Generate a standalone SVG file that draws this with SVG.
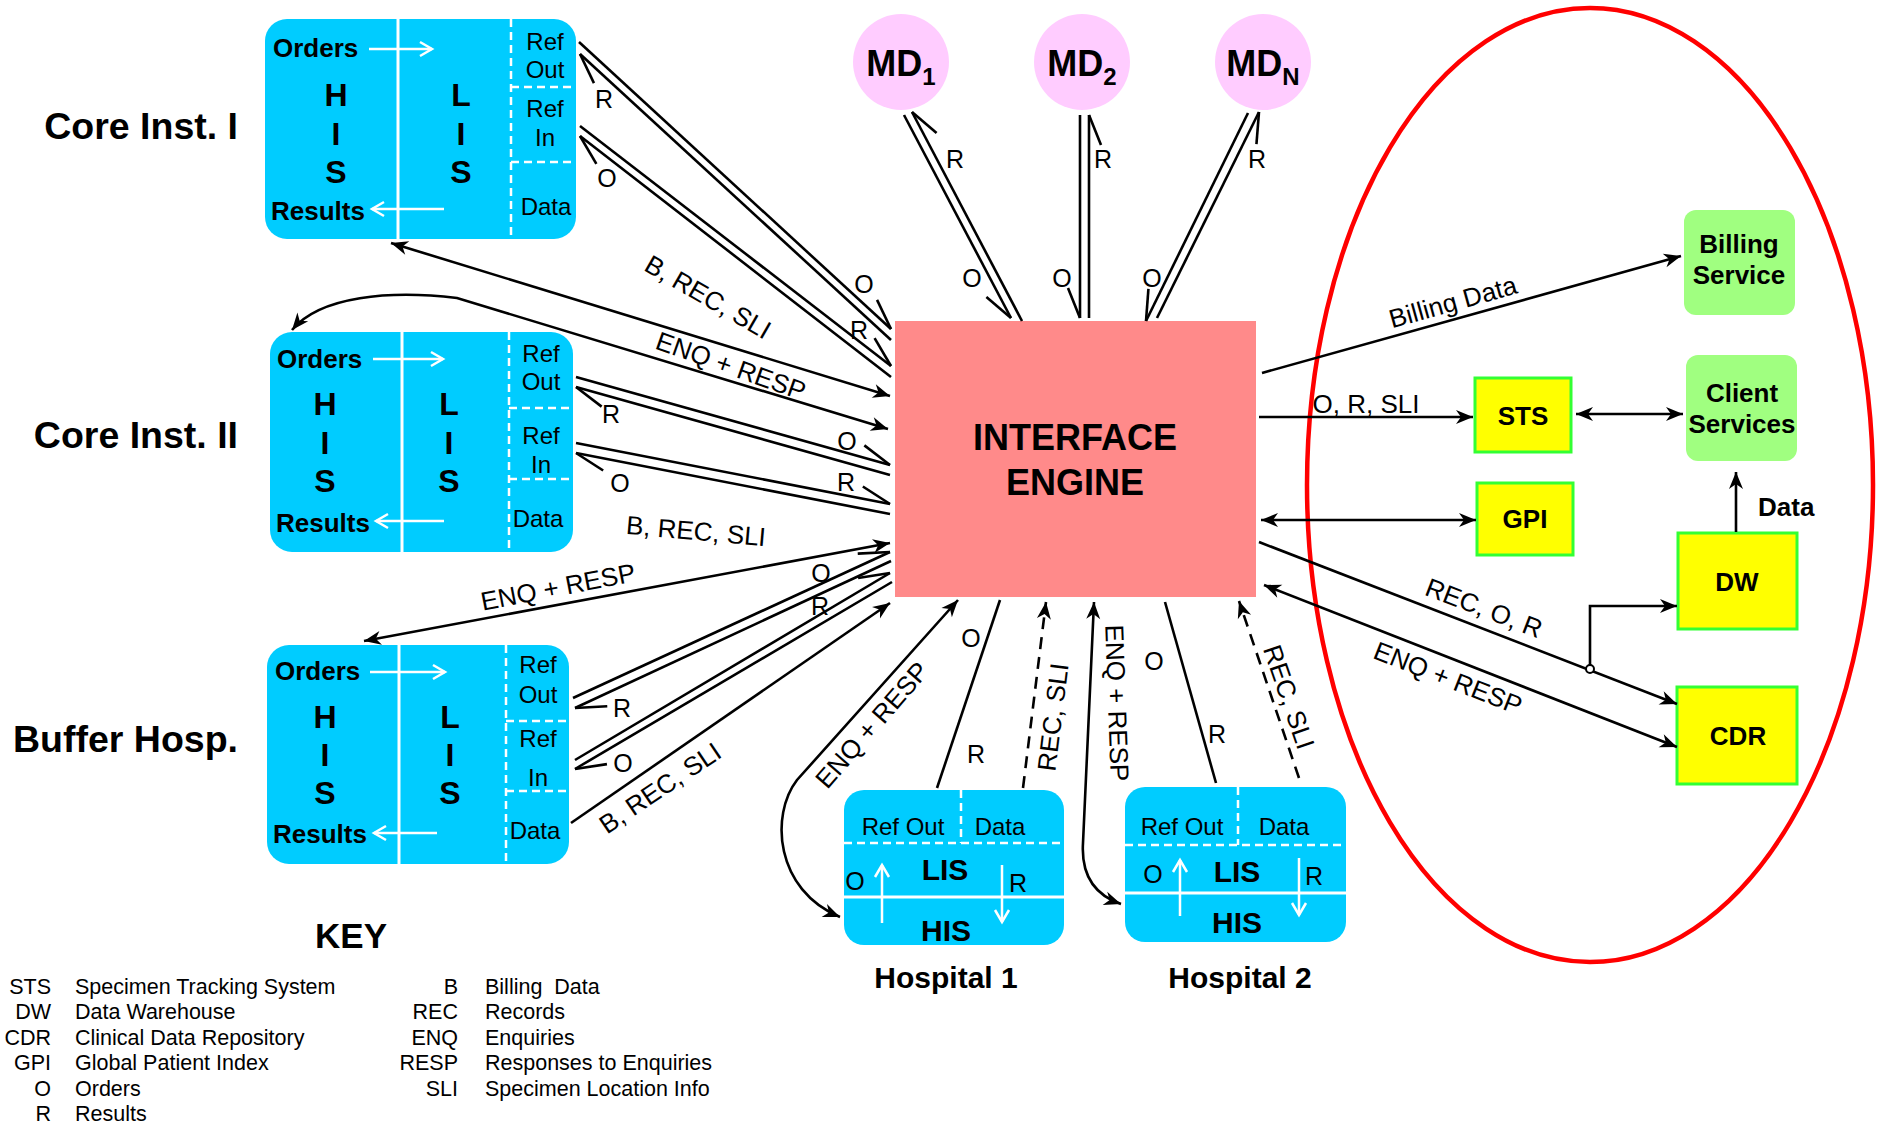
<svg xmlns="http://www.w3.org/2000/svg" width="1883" height="1126" viewBox="0 0 1883 1126">
  <style>
    text { font-family: "Liberation Sans", Arial, sans-serif; fill: #000; }
    .bold { font-weight: bold; }
    .t37 { font-size: 37.5px; font-weight: bold; }
    .t36 { font-size: 36px; font-weight: bold; }
    .t32 { font-size: 32px; font-weight: bold; }
    .t30 { font-size: 30px; font-weight: bold; }
    .t26b { font-size: 26px; font-weight: bold; }
    .t26 { font-size: 26px; }
    .t25 { font-size: 25px; }
    .t24 { font-size: 24px; }
    .t21 { font-size: 21.5px; }
    .mid { text-anchor: middle; }
    .end { text-anchor: end; }
    .sys { fill: #00CCFF; }
    .wl { stroke: #fff; stroke-width: 3; fill: none; }
    .wd { stroke: #fff; stroke-width: 2.5; stroke-dasharray: 8 5; fill: none; }
    .wa { stroke: #fff; stroke-width: 2.5; fill: none; marker-end: url(#wa); }
    .c { stroke: #000; stroke-width: 2.6; fill: none; }
    .dash { stroke-dasharray: 12 8; }
    .svc { fill: #A0FF80; }
    .ylw { fill: #FFFF00; stroke: #33FF33; stroke-width: 3; }
    .md { fill: #FFCCFF; }
  </style>
  <defs>
    <marker id="arr" markerUnits="userSpaceOnUse" orient="auto-start-reverse" overflow="visible" markerWidth="20" markerHeight="20" refX="0" refY="0">
      <path d="M0,0 L-17,-7 L-12,0 L-17,7 Z" fill="#000"/>
    </marker>
    <marker id="hL" markerUnits="userSpaceOnUse" orient="auto-start-reverse" overflow="visible" markerWidth="40" markerHeight="40" refX="0" refY="0">
      <path d="M0,0 L-30,-12" stroke="#000" stroke-width="2.6" fill="none"/>
    </marker>
    <marker id="hR" markerUnits="userSpaceOnUse" orient="auto-start-reverse" overflow="visible" markerWidth="40" markerHeight="40" refX="0" refY="0">
      <path d="M0,0 L-30,12" stroke="#000" stroke-width="2.6" fill="none"/>
    </marker>
    <marker id="wa" markerUnits="userSpaceOnUse" orient="auto" overflow="visible" markerWidth="20" markerHeight="20" refX="0" refY="0">
      <path d="M-12,-7 L0,0 L-12,7" stroke="#fff" stroke-width="2.5" fill="none"/>
    </marker>
  </defs>

  <rect width="1883" height="1126" fill="#fff"/>

  <!-- boundary around the central services -->
  <ellipse id="services-boundary" cx="1590" cy="485" rx="283" ry="477" fill="none" stroke="#FF0000" stroke-width="4.5"/>

  <!-- side labels -->
  <text class="t37 end" x="238" y="139">Core Inst. I</text>
  <text class="t37 end" x="238" y="448">Core Inst. II</text>
  <text class="t37 end" x="238" y="752">Buffer Hosp.</text>

  <!-- Core Inst. I -->
  <g id="core1">
    <rect class="sys" x="265" y="19" width="311" height="220" rx="22"/>
    <line class="wl" x1="398" y1="19" x2="398" y2="239"/>
    <line class="wd" x1="511" y1="19" x2="511" y2="239"/>
    <line class="wd" x1="511" y1="87" x2="576" y2="87"/>
    <line class="wd" x1="511" y1="162" x2="576" y2="162"/>
    <text class="t26b" x="273" y="57">Orders</text>
    <text class="t26b" x="271" y="220">Results</text>
    <line class="wa" x1="369" y1="49" x2="432" y2="49"/>
    <line class="wa" x1="444" y1="209" x2="372" y2="209"/>
    <text class="t32 mid" x="336" y="106">H</text>
    <text class="t32 mid" x="336" y="145">I</text>
    <text class="t32 mid" x="336" y="183">S</text>
    <text class="t32 mid" x="461" y="106">L</text>
    <text class="t32 mid" x="461" y="145">I</text>
    <text class="t32 mid" x="461" y="183">S</text>
    <text class="t24 mid" x="545" y="50">Ref</text>
    <text class="t24 mid" x="545" y="78">Out</text>
    <text class="t24 mid" x="545" y="117">Ref</text>
    <text class="t24 mid" x="545" y="146">In</text>
    <text class="t24 mid" x="546" y="215">Data</text>
  </g>

  <!-- Core Inst. II -->
  <g id="core2">
    <rect class="sys" x="270" y="332" width="303" height="220" rx="22"/>
    <line class="wl" x1="402" y1="332" x2="402" y2="552"/>
    <line class="wd" x1="509" y1="332" x2="509" y2="552"/>
    <line class="wd" x1="509" y1="408" x2="573" y2="408"/>
    <line class="wd" x1="509" y1="479" x2="573" y2="479"/>
    <text class="t26b" x="277" y="368">Orders</text>
    <text class="t26b" x="276" y="532">Results</text>
    <line class="wa" x1="373" y1="359" x2="443" y2="359"/>
    <line class="wa" x1="444" y1="521" x2="376" y2="521"/>
    <text class="t32 mid" x="325" y="415">H</text>
    <text class="t32 mid" x="325" y="454">I</text>
    <text class="t32 mid" x="325" y="492">S</text>
    <text class="t32 mid" x="449" y="415">L</text>
    <text class="t32 mid" x="449" y="454">I</text>
    <text class="t32 mid" x="449" y="492">S</text>
    <text class="t24 mid" x="541" y="362">Ref</text>
    <text class="t24 mid" x="541" y="390">Out</text>
    <text class="t24 mid" x="541" y="444">Ref</text>
    <text class="t24 mid" x="541" y="473">In</text>
    <text class="t24 mid" x="538" y="527">Data</text>
  </g>

  <!-- Buffer Hosp. -->
  <g id="buffer">
    <rect class="sys" x="267" y="645" width="302" height="219" rx="22"/>
    <line class="wl" x1="399" y1="645" x2="399" y2="864"/>
    <line class="wd" x1="506" y1="645" x2="506" y2="864"/>
    <line class="wd" x1="506" y1="721" x2="569" y2="721"/>
    <line class="wd" x1="506" y1="791" x2="569" y2="791"/>
    <text class="t26b" x="275" y="680">Orders</text>
    <text class="t26b" x="273" y="843">Results</text>
    <line class="wa" x1="370" y1="672" x2="445" y2="672"/>
    <line class="wa" x1="437" y1="833" x2="374" y2="833"/>
    <text class="t32 mid" x="325" y="728">H</text>
    <text class="t32 mid" x="325" y="766">I</text>
    <text class="t32 mid" x="325" y="804">S</text>
    <text class="t32 mid" x="450" y="728">L</text>
    <text class="t32 mid" x="450" y="766">I</text>
    <text class="t32 mid" x="450" y="804">S</text>
    <text class="t24 mid" x="538" y="673">Ref</text>
    <text class="t24 mid" x="538" y="703">Out</text>
    <text class="t24 mid" x="538" y="747">Ref</text>
    <text class="t24 mid" x="538" y="786">In</text>
    <text class="t24 mid" x="535" y="839">Data</text>
  </g>

  <!-- medical devices -->
  <g id="md1">
    <circle class="md" cx="901" cy="62" r="48"/>
    <text class="t36 mid" x="901" y="76">MD<tspan font-size="24" dy="9">1</tspan></text>
  </g>
  <g id="md2">
    <circle class="md" cx="1082" cy="62" r="48"/>
    <text class="t36 mid" x="1082" y="76">MD<tspan font-size="24" dy="9">2</tspan></text>
  </g>
  <g id="mdn">
    <circle class="md" cx="1263" cy="62" r="48"/>
    <text class="t36 mid" x="1263" y="76">MD<tspan font-size="24" dy="9">N</tspan></text>
  </g>

  <!-- interface engine -->
  <g id="engine">
    <rect x="895" y="321" width="361" height="276" fill="#FF8A8A"/>
    <text class="t36 mid" x="1075" y="450">INTERFACE</text>
    <text class="t36 mid" x="1075" y="495">ENGINE</text>
  </g>

  <!-- Hospital 1 -->
  <g id="hosp1">
    <rect class="sys" x="844" y="790" width="220" height="155" rx="20"/>
    <line class="wd" x1="961" y1="790" x2="961" y2="843"/>
    <line class="wd" x1="844" y1="843" x2="1064" y2="843"/>
    <line class="wl" x1="844" y1="897" x2="1064" y2="897"/>
    <text class="t24 mid" x="903" y="835">Ref Out</text>
    <text class="t24 mid" x="1000" y="835">Data</text>
    <text class="t30 mid" x="945" y="880">LIS</text>
    <text class="t30 mid" x="946" y="941">HIS</text>
    <text class="t25 mid" x="855" y="890">O</text>
    <text class="t25 mid" x="1018" y="892">R</text>
    <line class="wa" x1="882" y1="923" x2="882" y2="865"/>
    <line class="wa" x1="1002" y1="865" x2="1002" y2="922"/>
    <text class="t30 mid" x="946" y="988">Hospital 1</text>
  </g>

  <!-- Hospital 2 -->
  <g id="hosp2">
    <rect class="sys" x="1125" y="787" width="221" height="155" rx="20"/>
    <line class="wd" x1="1238" y1="787" x2="1238" y2="845"/>
    <line class="wd" x1="1125" y1="845" x2="1346" y2="845"/>
    <line class="wl" x1="1125" y1="893" x2="1346" y2="893"/>
    <text class="t24 mid" x="1182" y="835">Ref Out</text>
    <text class="t24 mid" x="1284" y="835">Data</text>
    <text class="t30 mid" x="1237" y="882">LIS</text>
    <text class="t30 mid" x="1237" y="933">HIS</text>
    <text class="t25 mid" x="1153" y="883">O</text>
    <text class="t25 mid" x="1314" y="885">R</text>
    <line class="wa" x1="1180" y1="916" x2="1180" y2="860"/>
    <line class="wa" x1="1299" y1="858" x2="1299" y2="915"/>
    <text class="t30 mid" x="1240" y="988">Hospital 2</text>
  </g>

  <!-- central services -->
  <g id="billing">
    <rect class="svc" x="1684" y="210" width="111" height="105" rx="12"/>
    <text class="t26b mid" x="1739" y="253">Billing</text>
    <text class="t26b mid" x="1739" y="284">Service</text>
  </g>
  <g id="client">
    <rect class="svc" x="1686" y="355" width="111" height="106" rx="12"/>
    <text class="t26b mid" x="1742" y="402">Client</text>
    <text class="t26b mid" x="1742" y="433">Services</text>
  </g>
  <g id="sts">
    <rect class="ylw" x="1475" y="378" width="96" height="74"/>
    <text class="t26b mid" x="1523" y="425">STS</text>
  </g>
  <g id="gpi">
    <rect class="ylw" x="1477" y="483" width="96" height="72"/>
    <text class="t26b mid" x="1525" y="528">GPI</text>
  </g>
  <g id="dw">
    <rect class="ylw" x="1678" y="533" width="119" height="96"/>
    <text class="t26b mid" x="1737" y="591">DW</text>
  </g>
  <g id="cdr">
    <rect class="ylw" x="1677" y="687" width="120" height="97"/>
    <text class="t26b mid" x="1738" y="745">CDR</text>
  </g>

  <!-- connectors -->
  <g id="connectors">
    <!-- Core Inst. I referral pairs -->
    <path class="c" d="M579,42 L891,329" marker-end="url(#hL)"/>
    <path class="c" d="M580,54 L891,340" marker-start="url(#hL)"/>
    <path class="c" d="M580,126 L891,366" marker-end="url(#hL)"/>
    <path class="c" d="M580,136 L891,377" marker-start="url(#hL)"/>
    <path class="c" d="M391,243 L890,396" marker-start="url(#arr)" marker-end="url(#arr)"/>
    <!-- Core Inst. II -->
    <path class="c" d="M292,330 C320,296 390,290 457,298 L888,429" marker-start="url(#arr)" marker-end="url(#arr)"/>
    <path class="c" d="M576,377 L890,465" marker-end="url(#hL)"/>
    <path class="c" d="M576,387 L890,475" marker-start="url(#hL)"/>
    <path class="c" d="M576,443 L890,504" marker-end="url(#hL)"/>
    <path class="c" d="M576,453 L890,514" marker-start="url(#hL)"/>
    <!-- Buffer Hosp. -->
    <path class="c" d="M364,641 L890,543" marker-start="url(#arr)" marker-end="url(#arr)"/>
    <path class="c" d="M573,698 L890,552" marker-end="url(#hL)"/>
    <path class="c" d="M575,708 L891,561" marker-start="url(#hL)"/>
    <path class="c" d="M575,760 L890,573" marker-end="url(#hL)"/>
    <path class="c" d="M575,769 L892,582" marker-start="url(#hL)"/>
    <path class="c" d="M571,823 L890,603" marker-end="url(#arr)"/>
    <!-- medical devices -->
    <path class="c" d="M904,115 L1011,318" marker-end="url(#hR)"/>
    <path class="c" d="M912,112 L1022,321" marker-start="url(#hR)"/>
    <path class="c" d="M1080,115 L1080,318" marker-end="url(#hR)"/>
    <path class="c" d="M1089,115 L1089,318" marker-start="url(#hR)"/>
    <path class="c" d="M1248,113 L1146,321" marker-end="url(#hR)"/>
    <path class="c" d="M1259,112 L1157,318" marker-start="url(#hR)"/>
    <!-- Hospital 1 -->
    <path class="c" d="M840,917 C775,890 770,815 797,780 L958,600" marker-start="url(#arr)" marker-end="url(#arr)"/>
    <path class="c" d="M937,788 L1000,600"/>
    <path class="c dash" d="M1023,788 L1046,602" marker-end="url(#arr)"/>
    <!-- Hospital 2 -->
    <path class="c" d="M1121,904 C1095,895 1081,875 1083,843 L1094,602" marker-start="url(#arr)" marker-end="url(#arr)"/>
    <path class="c" d="M1216,783 L1165,602"/>
    <path class="c dash" d="M1299,778 L1239,601" marker-end="url(#arr)"/>
    <!-- central services -->
    <path class="c" d="M1262,373 L1681,256" marker-end="url(#arr)"/>
    <path class="c" d="M1259,417 L1473,417" marker-end="url(#arr)"/>
    <path class="c" d="M1261,520 L1476,520" marker-start="url(#arr)" marker-end="url(#arr)"/>
    <path class="c" d="M1576,414 L1683,414" marker-start="url(#arr)" marker-end="url(#arr)"/>
    <path class="c" d="M1259,542 L1677,704" marker-end="url(#arr)"/>
    <path class="c" d="M1590,669 L1590,606 L1677,606" marker-end="url(#arr)"/>
    <circle cx="1590" cy="669" r="4" fill="#fff" stroke="#000" stroke-width="2"/>
    <path class="c" d="M1264,585 L1677,747" marker-start="url(#arr)" marker-end="url(#arr)"/>
    <path class="c" d="M1736,532 L1736,472" marker-end="url(#arr)"/>
  </g>

  <!-- connector labels -->
  <g id="labels">
    <text class="t25 mid" x="604" y="108">R</text>
    <text class="t25 mid" x="607" y="187">O</text>
    <text class="t25 mid" x="864" y="293">O</text>
    <text class="t25 mid" x="859" y="339">R</text>
    <text class="t26 mid" transform="translate(708,297) rotate(30)" y="9">B, REC, SLI</text>
    <text class="t26 mid" transform="translate(731,366) rotate(19.5)" y="9">ENQ + RESP</text>

    <text class="t25 mid" x="611" y="423">R</text>
    <text class="t25 mid" x="620" y="492">O</text>
    <text class="t25 mid" x="847" y="450">O</text>
    <text class="t25 mid" x="846" y="491">R</text>
    <text class="t26 mid" transform="translate(696,531) rotate(5)" y="9">B, REC, SLI</text>

    <text class="t26 mid" transform="translate(558,587) rotate(-11)" y="9">ENQ + RESP</text>
    <text class="t25 mid" x="622" y="717">R</text>
    <text class="t25 mid" x="623" y="772">O</text>
    <text class="t25 mid" x="821" y="582">O</text>
    <text class="t25 mid" x="820" y="615">R</text>
    <text class="t26 mid" transform="translate(660,788) rotate(-34)" y="9">B, REC, SLI</text>

    <text class="t25 mid" x="955" y="168">R</text>
    <text class="t25 mid" x="972" y="287">O</text>
    <text class="t25 mid" x="1103" y="168">R</text>
    <text class="t25 mid" x="1062" y="287">O</text>
    <text class="t25 mid" x="1257" y="168">R</text>
    <text class="t25 mid" x="1152" y="287">O</text>

    <text class="t26 mid" transform="translate(872,725) rotate(-49)" y="9">ENQ + RESP</text>
    <text class="t25 mid" x="971" y="647">O</text>
    <text class="t25 mid" x="976" y="763">R</text>
    <text class="t26 mid" transform="translate(1053,717) rotate(-83)" y="9">REC, SLI</text>

    <text class="t26 mid" transform="translate(1117,703) rotate(88)" y="9">ENQ + RESP</text>
    <text class="t25 mid" x="1154" y="670">O</text>
    <text class="t25 mid" x="1217" y="743">R</text>
    <text class="t26 mid" transform="translate(1289,697) rotate(71)" y="9">REC, SLI</text>

    <text class="t26 mid" transform="translate(1453,302) rotate(-15.6)" y="9">Billing Data</text>
    <text class="t26 mid" x="1366" y="413">O, R, SLI</text>
    <text class="t26 mid" transform="translate(1484,608) rotate(21)" y="9">REC, O, R</text>
    <text class="t26 mid" transform="translate(1448,678) rotate(21.4)" y="9">ENQ + RESP</text>
    <text class="t26b" x="1758" y="516">Data</text>
  </g>

  <!-- key -->
  <g id="key">
    <text class="bold mid" font-size="35" x="351" y="948">KEY</text>
    <text class="t21 end" x="51" y="994">STS</text>
    <text class="t21" x="75" y="994">Specimen Tracking System</text>
    <text class="t21 end" x="51" y="1019">DW</text>
    <text class="t21" x="75" y="1019">Data Warehouse</text>
    <text class="t21 end" x="51" y="1045">CDR</text>
    <text class="t21" x="75" y="1045">Clinical Data Repository</text>
    <text class="t21 end" x="51" y="1070">GPI</text>
    <text class="t21" x="75" y="1070">Global Patient Index</text>
    <text class="t21 end" x="51" y="1096">O</text>
    <text class="t21" x="75" y="1096">Orders</text>
    <text class="t21 end" x="51" y="1121">R</text>
    <text class="t21" x="75" y="1121">Results</text>
    <text class="t21 end" x="458" y="994">B</text>
    <text class="t21" x="485" y="994" xml:space="preserve">Billing  Data</text>
    <text class="t21 end" x="458" y="1019">REC</text>
    <text class="t21" x="485" y="1019">Records</text>
    <text class="t21 end" x="458" y="1045">ENQ</text>
    <text class="t21" x="485" y="1045">Enquiries</text>
    <text class="t21 end" x="458" y="1070">RESP</text>
    <text class="t21" x="485" y="1070">Responses to Enquiries</text>
    <text class="t21 end" x="458" y="1096">SLI</text>
    <text class="t21" x="485" y="1096">Specimen Location Info</text>
  </g>
</svg>
